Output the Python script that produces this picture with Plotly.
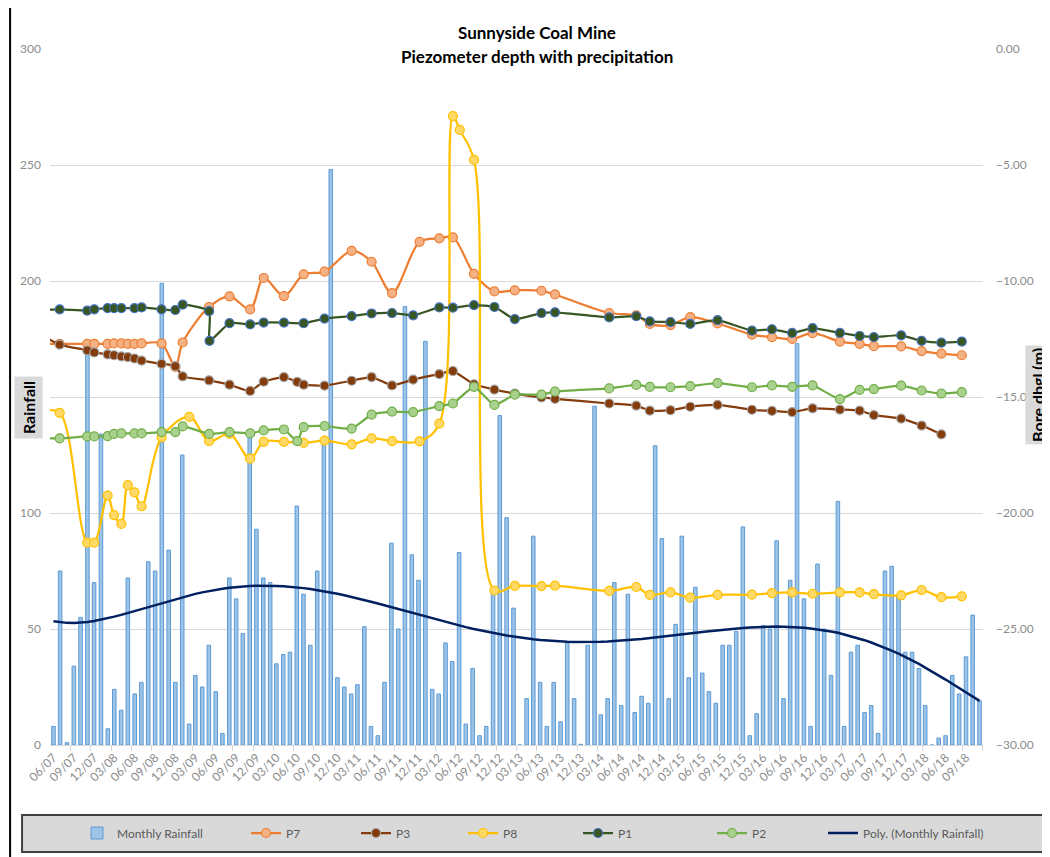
import numpy as np
import pandas as pd
import plotly.graph_objects as go

# ---------------- data ----------------
months = pd.date_range("2007-06-01", periods=138, freq="MS")
rainfall = [
    8, 75, 1, 34, 55, 170, 70, 134, 7, 24, 15, 72, 22, 27, 79, 75, 199, 84, 27, 125,
    9, 30, 25, 43, 23, 5, 72, 63, 48, 133, 93, 72, 70, 35, 39,
    40, 103, 65, 43, 75, 131, 248, 29, 25, 22, 26, 51, 8, 4, 27, 87, 50, 189, 82, 71,
    174, 24, 22, 44, 36, 83, 9, 33, 4, 8, 66, 142, 98, 59,
    0, 20, 90, 27, 8, 27, 10, 44, 20, 0.3, 43, 146, 13, 20, 70, 17, 65, 14, 21, 18,
    129, 89, 20, 52, 90, 29, 68, 31, 23, 18, 43, 43, 49, 94, 4,
    13.5, 51.5, 50, 88, 20, 71, 173, 63, 8, 78, 50, 30, 105, 8, 40, 43, 14, 17, 5, 75,
    77, 64, 40, 40, 33, 17, 0, 3, 4, 30, 22, 38, 56, 19,
]

p7_dates = ["2007-04-15", "2007-06-29", "2007-10-31", "2007-12-02", "2008-01-31", "2008-02-29", "2008-04-02",
            "2008-05-01", "2008-05-31", "2008-07-02", "2008-09-30", "2008-12-01", "2009-01-03", "2009-05-02",
            "2009-08-02", "2009-11-03", "2010-01-03", "2010-04-04", "2010-07-02", "2010-10-04", "2011-02-03",
            "2011-05-04", "2011-08-04", "2011-12-06", "2012-03-04", "2012-05-04", "2012-08-07", "2012-11-07",
            "2013-02-07", "2013-06-07", "2013-08-07", "2014-04-08", "2014-08-08", "2014-10-08", "2015-01-09",
            "2015-04-08", "2015-08-09", "2016-01-11", "2016-04-10", "2016-07-10", "2016-10-10", "2017-02-10",
            "2017-05-10", "2017-07-13", "2017-11-13", "2018-02-13", "2018-05-13", "2018-08-13"]
p7_depth = [-12.72, -12.71, -12.71, -12.71, -12.71, -12.69, -12.69, -12.71, -12.71, -12.69, -12.69, -13.70,
            -12.65, -11.12, -10.66, -11.22, -9.87, -10.65, -9.71, -9.60, -8.70, -9.17, -10.52, -8.31, -8.16,
            -8.12, -9.69, -10.45, -10.40, -10.42, -10.58, -11.38, -11.48, -11.85, -11.90, -11.56, -11.83,
            -12.31, -12.42, -12.50, -12.25, -12.61, -12.71, -12.81, -12.82, -13.02, -13.13, -13.20]

p3_dates = ["2007-04-15", "2007-06-29", "2007-10-31", "2007-12-02", "2008-01-31", "2008-02-29", "2008-04-02",
            "2008-05-01", "2008-05-31", "2008-07-02", "2008-09-30", "2008-12-01", "2009-01-03", "2009-05-02",
            "2009-08-02", "2009-11-03", "2010-01-03", "2010-04-04", "2010-06-03", "2010-07-02", "2010-10-04",
            "2011-02-03", "2011-05-04", "2011-08-04", "2011-11-07", "2012-03-04", "2012-05-04", "2012-08-07",
            "2012-11-07", "2013-02-07", "2013-06-07", "2013-08-07", "2014-04-08", "2014-08-08", "2014-10-08",
            "2015-01-09", "2015-04-08", "2015-08-09", "2016-01-11", "2016-04-10", "2016-07-10", "2016-10-10",
            "2017-02-10", "2017-05-10", "2017-07-13", "2017-11-13", "2018-02-13", "2018-05-13"]
p3_depth = [-12.37, -12.74, -12.99, -13.08, -13.16, -13.20, -13.25, -13.28, -13.34, -13.43, -13.57, -13.67,
            -14.11, -14.28, -14.47, -14.74, -14.34, -14.14, -14.35, -14.47, -14.51, -14.30, -14.14, -14.50,
            -14.25, -14.01, -13.88, -14.45, -14.68, -14.85, -15.02, -15.08, -15.28, -15.37, -15.59, -15.57,
            -15.42, -15.34, -15.55, -15.60, -15.65, -15.49, -15.54, -15.59, -15.78, -15.93, -16.23, -16.61]

p8_dates = ["2007-04-15", "2007-06-29", "2007-10-31", "2007-12-02", "2008-01-31", "2008-02-29", "2008-04-02",
            "2008-05-01", "2008-05-31", "2008-07-02", "2008-09-30", "2009-02-02", "2009-05-02", "2009-08-02",
            "2009-11-03", "2010-01-03", "2010-04-04", "2010-07-02", "2010-10-04", "2011-02-03", "2011-05-04",
            "2011-08-04", "2011-12-06", "2012-03-04", "2012-05-04", "2012-06-04", "2012-08-07", "2012-11-07",
            "2013-02-07", "2013-06-07", "2013-08-07", "2014-04-08", "2014-08-08", "2014-10-08", "2015-01-09",
            "2015-04-08", "2015-08-09", "2016-01-11", "2016-04-10", "2016-07-10", "2016-10-10", "2017-02-10",
            "2017-05-10", "2017-07-13", "2017-11-13", "2018-02-13", "2018-05-13", "2018-08-13"]
p8_depth = [-15.62, -15.68, -21.28, -21.28, -19.25, -20.09, -20.47, -18.80, -19.11, -19.71, -16.74, -15.86,
            -16.90, -16.59, -17.66, -16.93, -16.93, -16.98, -16.88, -17.04, -16.78, -16.90, -16.91, -16.15,
            -2.89, -3.49, -4.78, -23.34, -23.14, -23.15, -23.13, -23.36, -23.19, -23.53, -23.42, -23.65,
            -23.53, -23.52, -23.45, -23.42, -23.48, -23.42, -23.42, -23.50, -23.55, -23.32, -23.63, -23.59]

p1_dates = ["2007-04-15", "2007-06-29", "2007-10-31", "2007-12-02", "2008-01-31", "2008-02-29", "2008-04-02",
            "2008-05-31", "2008-07-02", "2008-09-30", "2008-12-01", "2009-01-03", "2009-05-02", "2009-05-04",
            "2009-08-02", "2009-11-03", "2010-01-03", "2010-04-04", "2010-07-02", "2010-10-04", "2011-02-03",
            "2011-05-04", "2011-08-04", "2011-11-07", "2012-03-04", "2012-05-04", "2012-08-07", "2012-11-07",
            "2013-02-07", "2013-06-07", "2013-08-07", "2014-04-08", "2014-08-08", "2014-10-08", "2015-01-09",
            "2015-04-08", "2015-08-09", "2016-01-11", "2016-04-10", "2016-07-10", "2016-10-10", "2017-02-10",
            "2017-05-10", "2017-07-13", "2017-11-13", "2018-02-13", "2018-05-13", "2018-08-13"]
p1_depth = [-11.25, -11.22, -11.28, -11.22, -11.17, -11.17, -11.17, -11.17, -11.14, -11.22, -11.25, -11.02,
            -11.30, -12.58, -11.82, -11.87, -11.79, -11.79, -11.82, -11.62, -11.51, -11.40, -11.38, -11.48,
            -11.14, -11.15, -11.04, -11.12, -11.64, -11.38, -11.35, -11.57, -11.52, -11.74, -11.77, -11.85,
            -11.69, -12.14, -12.08, -12.24, -12.03, -12.24, -12.37, -12.42, -12.34, -12.58, -12.66, -12.61]

p2_dates = ["2007-04-15", "2007-06-29", "2007-10-31", "2007-12-02", "2008-01-31", "2008-02-29", "2008-04-02",
            "2008-05-31", "2008-07-02", "2008-09-30", "2008-12-01", "2009-01-03", "2009-05-02", "2009-08-02",
            "2009-11-03", "2010-01-03", "2010-04-04", "2010-06-03", "2010-07-02", "2010-10-04", "2011-02-03",
            "2011-05-04", "2011-08-04", "2011-11-07", "2012-03-04", "2012-05-04", "2012-08-07", "2012-11-07",
            "2013-02-07", "2013-06-07", "2013-08-07", "2014-04-08", "2014-08-08", "2014-10-08", "2015-01-09",
            "2015-04-08", "2015-08-09", "2016-01-11", "2016-04-10", "2016-07-10", "2016-10-10", "2017-02-10",
            "2017-05-10", "2017-07-13", "2017-11-13", "2018-02-13", "2018-05-13", "2018-08-13"]
p2_depth = [-16.78, -16.78, -16.70, -16.70, -16.69, -16.59, -16.57, -16.57, -16.57, -16.51, -16.51, -16.27,
            -16.59, -16.51, -16.57, -16.44, -16.40, -16.90, -16.30, -16.25, -16.36, -15.76, -15.63, -15.65,
            -15.39, -15.28, -14.56, -15.34, -14.90, -14.90, -14.77, -14.63, -14.48, -14.56, -14.58, -14.53,
            -14.40, -14.58, -14.50, -14.56, -14.50, -15.09, -14.69, -14.66, -14.51, -14.72, -14.85, -14.79]

# polynomial trendline of the monthly rainfall (Excel "Poly." trendline, order 6)
xs = np.arange(1, len(rainfall) + 1)
trend = np.polynomial.Polynomial.fit(xs, rainfall, 6)(xs)

# ---------------- figure ----------------
# the page body adds an 8px offset, so the figure is drawn smaller and shifted
OFF = 8
W, H = 1050 - OFF, 857 - OFF
L, T = 48 - OFF, 49 - OFF
R = W - (983 - OFF)
B = H - (745 - OFF)
PW, PH = W - L - R, H - T - B


def px(x):  # reference-page pixel -> paper x
    return (x - OFF - L) / PW


def py(y):  # reference-page pixel -> paper y
    return (H - B - (y - OFF)) / PH


def cx(x):  # reference-page pixel -> container x
    return (x - OFF) / W


def cy(y):  # reference-page pixel -> container y
    return 1 - (y - OFF) / H


FONT = "Lato"
fig = go.Figure()

fig.add_trace(go.Bar(
    x=months, y=rainfall, name="Monthly Rainfall", yaxis="y",
    width=16 * 86400000,
    marker=dict(color="#9dc3e6", line=dict(color="#5b9bd5", width=1)),
    legend="legend",
))

series = [
    ("P7", p7_dates, p7_depth, "#ED7D31", "#F4B183", "#ED7D31", "legend2", 0.9),
    ("P3", p3_dates, p3_depth, "#843C0C", "#843C0C", "#A5A5A5", "legend3", 0.5),
    ("P8", p8_dates, p8_depth, "#FFC000", "#FFD966", "#FFC000", "legend4", 1.0),
    ("P1", p1_dates, p1_depth, "#375623", "#375623", "#4472C4", "legend5", 0.5),
    ("P2", p2_dates, p2_depth, "#70AD47", "#A9D18E", "#70AD47", "legend6", 0.5),
]
for name, d, v, lc, fc, ec, lg, sm in series:
    fig.add_trace(go.Scatter(
        x=d, y=v, name=name, yaxis="y2", mode="lines+markers",
        line=dict(color=lc, width=2.25, shape="spline", smoothing=sm),
        marker=dict(size=9, color=fc, line=dict(color=ec, width=1.2)),
        legend=lg,
    ))

fig.add_trace(go.Scatter(
    x=months, y=trend, name="Poly. (Monthly Rainfall)", yaxis="y", mode="lines",
    line=dict(color="#002060", width=2.5), legend="legend7",
))

tickfont = dict(family=FONT, size=12, color="#8c8c8c")
legfont = dict(family=FONT, size=12, color="#595959")
leg_x = [84, 253, 363, 470, 585, 719, 830]
legends = {}
for i, xx in enumerate(leg_x):
    key = "legend" if i == 0 else f"legend{i + 1}"
    legends[key] = dict(xref="container", yref="container", x=cx(xx - 7), y=cy(833),
                        xanchor="left", yanchor="middle",
                        orientation="h", bgcolor="rgba(0,0,0,0)", font=legfont,
                        itemwidth=30, borderwidth=0)

fig.update_layout(
    width=W, height=H,
    margin=dict(l=L, r=R, t=T, b=B),
    paper_bgcolor="white", plot_bgcolor="white",
    showlegend=True,
    xaxis=dict(
        type="date", range=["2007-05-16 12:00", "2018-11-16 12:00"],
        tick0="2007-06-01", dtick="M3", tickformat="%m/%y", tickangle=-45,
        ticks="", showgrid=False, showline=True, linecolor="#d9d9d9", linewidth=1,
        tickfont=tickfont, zeroline=False,
        minor=dict(tick0="2007-05-16", dtick="M3", ticks="outside", ticklen=5,
                   tickcolor="#d9d9d9", showgrid=False),
    ),
    yaxis=dict(
        range=[0, 300], dtick=50, gridcolor="#d9d9d9", gridwidth=1, zeroline=False,
        showline=False, ticks="", tickfont=tickfont, ticklabelstandoff=8,
    ),
    yaxis2=dict(
        range=[-30, 0], dtick=5, tickformat=".2f", overlaying="y", side="right",
        showgrid=False, zeroline=False, showline=False, ticks="",
        tickfont=tickfont, ticklabelstandoff=12,
    ),
    **legends,
    annotations=[
        dict(text="<b>Sunnyside Coal Mine</b>", xref="paper", yref="paper", x=px(536), y=py(32),
             showarrow=False, font=dict(family=FONT, size=17, color="#000000"), xanchor="center", yanchor="middle"),
        dict(text="<b>Piezometer depth with precipitation</b>", xref="paper", yref="paper", x=px(536), y=py(57),
             showarrow=False, font=dict(family=FONT, size=17, color="#000000"), xanchor="center", yanchor="middle"),
        dict(text="<b>Rainfall</b>", xref="paper", yref="paper", x=px(26), y=py(408), textangle=-90,
             showarrow=False, font=dict(family=FONT, size=16, color="#000000"), bgcolor="#d9d9d9",
             borderpad=4, xanchor="center", yanchor="middle"),
        dict(text="<b>Bore dbgl (m)</b>", xref="paper", yref="paper", x=px(1037), y=py(395), textangle=-90,
             showarrow=False, font=dict(family=FONT, size=16, color="#000000"), bgcolor="#d9d9d9",
             borderpad=2, xanchor="center", yanchor="middle"),
    ],
    shapes=[
        dict(type="rect", xref="paper", yref="paper", x0=px(20), x1=px(1046), y0=py(852), y1=py(815),
             fillcolor="#d9d9d9", line=dict(color="#404040", width=2), layer="below"),
        dict(type="line", xref="paper", yref="paper", x0=px(8), x1=px(8), y0=py(0), y1=py(857),
             line=dict(color="#000000", width=2)),
    ],
)

fig.write_html("out.html")
